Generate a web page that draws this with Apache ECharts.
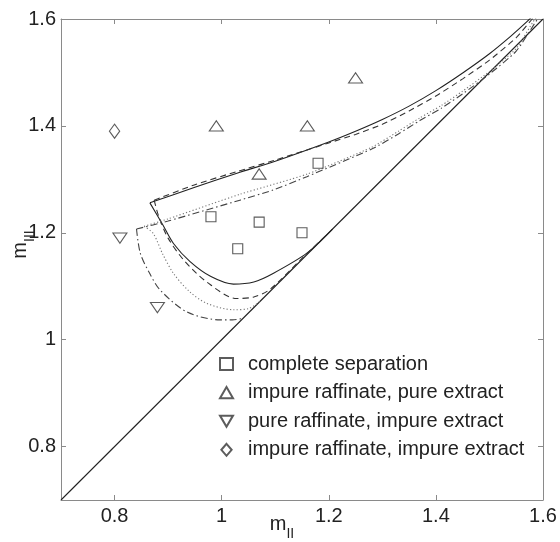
<!DOCTYPE html>
<html>
<head>
<meta charset="utf-8">
<script src="https://cdn.jsdelivr.net/npm/echarts@6/dist/echarts.min.js"></script>
<style>html,body{margin:0;padding:0;background:#fff}#c{width:560px;height:542px}</style>
</head>
<body>
<div id="c"></div>
<script>
// ---- tick labels ----
const xTicks = [0.8, 1, 1.2, 1.4, 1.6];
const yTicks = [0.8, 1, 1.2, 1.4, 1.6];

// ---- experimental points ----
const sepX = [0.98, 1.03, 1.07, 1.15, 1.18];
const sepY = [1.23, 1.17, 1.22, 1.20, 1.33];
const upX = [0.99, 1.07, 1.16, 1.25];
const upY = [1.40, 1.31, 1.40, 1.49];
const downX = [0.81, 0.88];
const downY = [1.19, 1.06];
const diaX = [0.80];
const diaY = [1.39];

const legendNames = ['complete separation', 'impure raffinate, pure extract', 'pure raffinate, impure extract', 'impure raffinate, impure extract'];

// ---- diagonal ----
const diagX = [0.7, 1.6];
const diagY = [0.7, 1.6];

// ---- separation regions (upper and lower branches) ----
const solidUpX = [0.866, 0.95, 1.03, 1.1, 1.2, 1.25, 1.3, 1.35, 1.4, 1.45, 1.5, 1.54, 1.57, 1.58];
const solidUpY = [1.256, 1.285, 1.312, 1.334, 1.37, 1.39, 1.412, 1.437, 1.466, 1.499, 1.535, 1.568, 1.595, 1.605];
const solidLoX = [0.866, 0.89, 0.91, 0.941, 0.98, 1.022, 1.06, 1.096, 1.159, 1.207];
const solidLoY = [1.256, 1.215, 1.18, 1.146, 1.118, 1.104, 1.108, 1.124, 1.162, 1.207];

const dashUpX = [0.874, 0.95, 1.03, 1.1, 1.2, 1.25, 1.3, 1.35, 1.4, 1.45, 1.5, 1.55, 1.58, 1.59];
const dashUpY = [1.261, 1.29, 1.315, 1.336, 1.368, 1.384, 1.403, 1.428, 1.456, 1.488, 1.523, 1.565, 1.6, 1.61];
const dashLoX = [0.874, 0.882, 0.9, 0.93, 0.972, 1.028, 1.06, 1.09, 1.15, 1.2];
const dashLoY = [1.261, 1.232, 1.19, 1.148, 1.108, 1.077, 1.08, 1.094, 1.152, 1.2];

const dotUpX = [0.855, 0.9, 1.034, 1.16, 1.28, 1.33, 1.37, 1.41, 1.45, 1.5, 1.55, 1.585, 1.6];
const dotUpY = [1.212, 1.226, 1.272, 1.31, 1.36, 1.39, 1.415, 1.438, 1.465, 1.502, 1.545, 1.6, 1.615];
const dotLoX = [0.855, 0.872, 0.89, 0.91, 0.94, 0.972, 1.022, 1.05, 1.072];
const dotLoY = [1.212, 1.199, 1.16, 1.124, 1.09, 1.068, 1.056, 1.058, 1.072];

const ddUpX = [0.841, 0.9, 1.034, 1.096, 1.159, 1.283, 1.33, 1.37, 1.41, 1.45, 1.5, 1.55, 1.59, 1.6];
const ddUpY = [1.207, 1.222, 1.261, 1.28, 1.305, 1.358, 1.385, 1.41, 1.433, 1.46, 1.497, 1.54, 1.6, 1.61];
const ddLoX = [0.841, 0.848, 0.865, 0.885, 0.935, 0.997, 1.02, 1.04];
const ddLoY = [1.207, 1.162, 1.125, 1.093, 1.052, 1.037, 1.037, 1.04];

const zip = (xs, ys) => xs.map((x, i) => [x, ys[i]]);
const FONT = 'Liberation Sans, Arial, sans-serif';
const INK = '#222';
const AX = '#8a8a8a';

function curve(xs, ys, type, color, smooth) {
  return {
    type: 'line', data: zip(xs, ys), showSymbol: false, symbol: 'none',
    smooth: smooth, silent: true, z: 2,
    lineStyle: { color: color, width: 1.1, type: type }
  };
}
function pts(name, xs, ys, symbol, size) {
  return {
    type: 'scatter', name: name, data: zip(xs, ys), symbol: symbol, symbolSize: size,
    symbolKeepAspect: true, z: 5,
    itemStyle: { color: 'rgba(0,0,0,0)', borderColor: '#333', borderWidth: 1.1 }
  };
}
const downTri = 'path://M0,0 L14,0 L7,12 Z';
const upTri = 'path://M7,0 L14,12 L0,12 Z';
const diamondPath = 'path://M6,0 L12,7 L6,14 L0,7 Z';

const chart = echarts.init(document.getElementById('c'), null, { renderer: 'canvas' });
chart.setOption({
  animation: false,
  backgroundColor: '#fff',
  grid: { left: 61, top: 19, width: 482, height: 481, containLabel: false, outerBoundsMode: 'none' },
  xAxis: [
    {
      type: 'value', min: 0.7, max: 1.6, position: 'bottom',
      name: '{m|m}{s|II}', nameLocation: 'middle', nameGap: 7, nameMoveOverlap: false,
      nameTextStyle: { fontFamily: FONT, color: INK, padding: [0, 40, 0, 0],
        rich: { m: { fontSize: 20, fontFamily: FONT, color: INK }, s: { fontSize: 14, fontFamily: FONT, color: INK, padding: [20, 0, 0, 0] } } },
      axisLine: { show: true, onZero: false, lineStyle: { color: AX, width: 1 } },
      axisTick: { show: true, inside: true, length: 5, customValues: xTicks, lineStyle: { color: AX } },
      axisLabel: { customValues: xTicks, fontSize: 20, fontFamily: FONT, color: INK, margin: 6 },
      splitLine: { show: false }
    },
    {
      type: 'value', min: 0.7, max: 1.6, position: 'top',
      axisLine: { show: true, onZero: false, lineStyle: { color: AX, width: 1 } },
      axisTick: { show: true, inside: true, length: 5, customValues: xTicks, lineStyle: { color: AX } },
      axisLabel: { show: false }, splitLine: { show: false }
    }
  ],
  yAxis: [
    {
      type: 'value', min: 0.7, max: 1.6, position: 'left',
      name: '{m|m}{s|III}', nameLocation: 'middle', nameGap: 24, nameRotate: 90, nameMoveOverlap: false,
      nameTextStyle: { fontFamily: FONT, color: INK, padding: [0, 0, 0, 30],
        rich: { m: { fontSize: 20, fontFamily: FONT, color: INK }, s: { fontSize: 14, fontFamily: FONT, color: INK, padding: [20, 0, 0, 0] } } },
      axisLine: { show: true, onZero: false, lineStyle: { color: AX, width: 1 } },
      axisTick: { show: true, inside: true, length: 5, customValues: yTicks, lineStyle: { color: AX } },
      axisLabel: { customValues: yTicks, fontSize: 20, fontFamily: FONT, color: INK, margin: 5 },
      splitLine: { show: false }
    },
    {
      type: 'value', min: 0.7, max: 1.6, position: 'right',
      axisLine: { show: true, onZero: false, lineStyle: { color: AX, width: 1 } },
      axisTick: { show: true, inside: true, length: 5, customValues: yTicks, lineStyle: { color: AX } },
      axisLabel: { show: false }, splitLine: { show: false }
    }
  ],
  legend: {
    orient: 'vertical', left: 214, top: 349, itemWidth: 13, itemHeight: 12, itemGap: 8.6,
    data: [
      { name: legendNames[0], icon: 'rect' },
      { name: legendNames[1], icon: upTri },
      { name: legendNames[2], icon: downTri },
      { name: legendNames[3], icon: diamondPath }
    ],
    selectedMode: false,
    textStyle: { fontSize: 20, fontFamily: FONT, color: INK, padding: [0, 0, 0, 10] }
  },
  series: [
    curve(diagX, diagY, 'solid', INK, false),
    curve(solidUpX, solidUpY, 'solid', INK, 0.2),
    curve(solidLoX, solidLoY, 'solid', INK, 0.3),
    curve(dashUpX, dashUpY, [6, 4], '#333', 0.2),
    curve(dashLoX, dashLoY, [6, 4], '#333', 0.3),
    curve(dotUpX, dotUpY, [1.2, 2.2], '#777', 0.2),
    curve(dotLoX, dotLoY, [1.2, 2.2], '#777', 0.3),
    curve(ddUpX, ddUpY, [7, 3, 1.5, 3], '#444', 0.2),
    curve(ddLoX, ddLoY, [7, 3, 1.5, 3], '#444', 0.3),
    pts(legendNames[0], sepX, sepY, 'rect', 10),
    pts(legendNames[1], upX, upY, upTri, [14, 12]),
    pts(legendNames[2], downX, downY, downTri, [14, 12]),
    pts(legendNames[3], diaX, diaY, diamondPath, [12, 14])
  ]
});
</script>
</body>
</html>
